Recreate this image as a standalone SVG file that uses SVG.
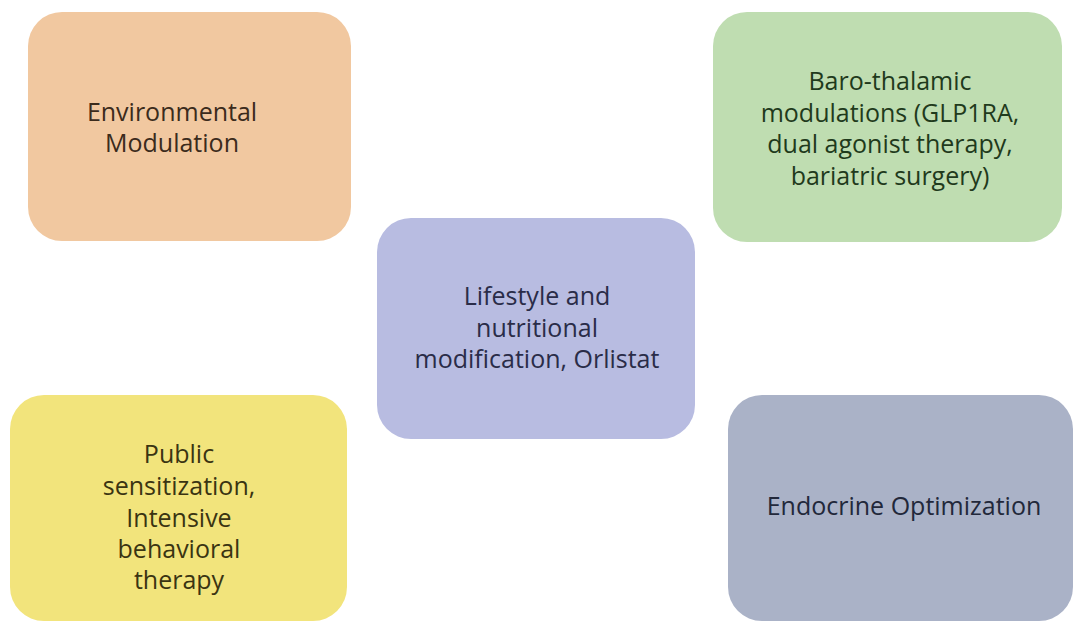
<svg xmlns="http://www.w3.org/2000/svg" width="1074" height="621" viewBox="0 0 1074 621">
<style>
text{font-family:"Open Sans","Noto Sans","DejaVu Sans",sans-serif;font-size:25px;font-weight:500;text-anchor:middle}
</style>
<rect width="1074" height="621" fill="#ffffff"/>
<g id="environmental">
<rect x="28" y="12" width="323" height="229" rx="34" fill="#F1C8A0"/>
<text fill="#3b2b1c"><tspan x="172" y="121">Environmental</tspan><tspan x="172" y="152">Modulation</tspan></text>
</g>
<g id="barothalamic">
<rect x="713" y="12" width="349" height="230" rx="34" fill="#BFDDB1"/>
<text fill="#1f3a1c"><tspan x="890" y="90">Baro-thalamic</tspan><tspan x="890" y="122">modulations (GLP1RA,</tspan><tspan x="890" y="153">dual agonist therapy,</tspan><tspan x="890" y="185">bariatric surgery)</tspan></text>
</g>
<g id="lifestyle">
<rect x="377" y="218" width="318" height="221" rx="34" fill="#B8BCE1"/>
<text fill="#2a2c48"><tspan x="537" y="305">Lifestyle and</tspan><tspan x="537" y="337">nutritional</tspan><tspan x="537" y="368">modification, Orlistat</tspan></text>
</g>
<g id="public">
<rect x="10" y="395" width="337" height="226" rx="34" fill="#F2E47C"/>
<text fill="#3a3412"><tspan x="179" y="463">Public</tspan><tspan x="179" y="495">sensitization,</tspan><tspan x="179" y="527">Intensive</tspan><tspan x="179" y="558">behavioral</tspan><tspan x="179" y="589">therapy</tspan></text>
</g>
<g id="endocrine">
<rect x="728" y="395" width="345" height="226" rx="34" fill="#AAB2C7"/>
<text fill="#22283a"><tspan x="904" y="515">Endocrine Optimization</tspan></text>
</g>
</svg>
